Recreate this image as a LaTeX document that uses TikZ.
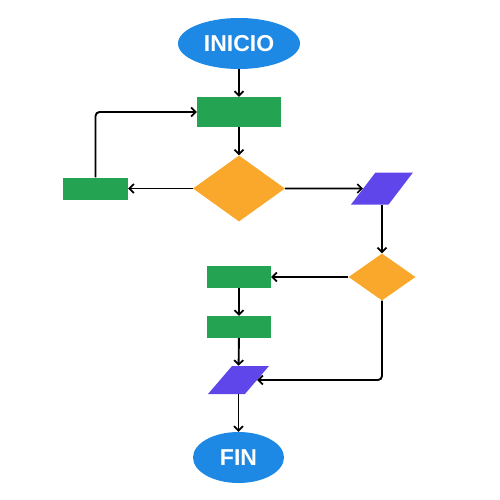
\documentclass[tikz,border=0pt]{standalone}
\usepackage{fontspec}
\setmainfont{Liberation Sans}
\usetikzlibrary{shapes.geometric,arrows.meta}
\definecolor{cblue}{HTML}{1E88E5}
\definecolor{cgreen}{HTML}{24A352}
\definecolor{corange}{HTML}{F9A82B}
\definecolor{cpurple}{HTML}{5F46EA}
\begin{document}
\begin{tikzpicture}[x=1pt,y=-1pt,
  term/.style={ellipse,fill=cblue,draw=none,inner sep=0pt,text=white,font=\fontsize{23}{23}\selectfont\bfseries},
  proc/.style={rectangle,fill=cgreen,draw=none,inner sep=0pt},
  dec/.style={diamond,fill=corange,draw=none,inner sep=0pt},
  io/.style={trapezium,trapezium left angle=65,trapezium right angle=115,trapezium stretches=true,fill=cpurple,draw=none,inner sep=2pt},
  conn/.style={line width=1.9pt,-{Straight Barb[length=4.5pt,width=9pt,line width=1.7pt]}}]
\useasboundingbox (0,0) rectangle (499,500);
\node[term,minimum width=122pt,minimum height=51pt] (ini) at (239,43.5) {INICIO};
\node[proc,minimum width=84pt,minimum height=30pt] (r1) at (239,112) {};
\node[dec,minimum width=92pt,minimum height=66pt] (d1) at (239,188.5) {};
\node[proc,minimum width=65pt,minimum height=22pt] (s) at (95.5,188.5) {};
\node[io,minimum width=62pt,minimum height=32pt] (p1) at (382,188.5) {\strut};
\node[dec,minimum width=67pt,minimum height=47pt] (d2) at (382,277) {};
\node[proc,minimum width=64pt,minimum height=22pt] (ra) at (239,277) {};
\node[proc,minimum width=64pt,minimum height=22pt] (rb) at (239,327) {};
\node[io,minimum width=61pt,minimum height=28pt] (p2) at (238.5,380) {\strut};
\node[term,minimum width=91pt,minimum height=51pt] (fin) at (238.5,457.5) {FIN};
\draw[conn] (ini) -- (r1);
\draw[conn] (r1) -- (d1);
\draw[conn] (d1) -- (s);
\draw[conn,rounded corners=4pt] (s.north) |- (r1.west);
\draw[conn] (d1) -- (p1);
\draw[conn] (p1.south -| d2.north) -- (d2.north);
\draw[conn] (d2) -- (ra);
\draw[conn] (ra) -- (rb);
\draw[conn] (rb) -- (p2);
\draw[conn,rounded corners=4pt] (d2.south) |- (p2);
\draw[conn] (p2) -- (fin);
\end{tikzpicture}
\end{document}
